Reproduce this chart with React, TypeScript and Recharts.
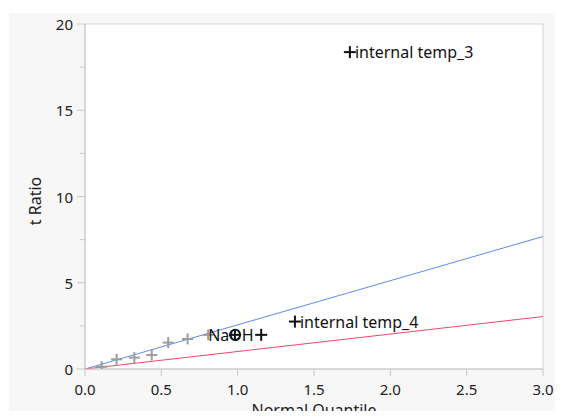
import React from 'react';
import {
  ComposedChart,
  Scatter,
  XAxis,
  YAxis,
  CartesianGrid,
  ReferenceLine,
  ReferenceArea,
} from 'recharts';

// Half-normal plot of effect t ratios
const quantiles = [0.109, 0.207, 0.323, 0.437, 0.545, 0.672, 0.807, 0.982, 1.154, 1.375, 1.735];
const tRatios = [0.13, 0.56, 0.66, 0.81, 1.53, 1.74, 1.98, 1.98, 1.98, 2.75, 18.37];
const termLabels = ['', '', '', '', '', '', '', 'NaOH', '', 'internal temp_4', 'internal temp_3'];
const activeTerms = [false, false, false, false, false, false, false, true, true, true, true];
const circledTerm = 'NaOH';

const xTicks = [0, 0.5, 1, 1.5, 2, 2.5, 3];
const yTicks = [0, 2.5, 5, 7.5, 10, 12.5, 15, 17.5, 20];
const xMax = 3;
const yMax = 20;

// reference lines through the origin, given by their height at the right edge
const blueLineEnd = 7.68;
const redLineEnd = 3.04;

const points = quantiles.map((q, i) => ({
  x: q,
  y: tRatios[i],
  label: termLabels[i],
  active: activeTerms[i],
}));

const FONT = '"Noto Sans", "Open Sans", sans-serif';
const AXIS_X = 77;
const AXIS_Y = 361;
const AXIS_COLOR = '#c8c8c8';

const PlusMark = (props: any) => {
  const { cx, cy, payload } = props;
  if (cx == null || cy == null) return null;
  const color = payload.active ? '#111' : '#9c9c9c';
  const arm = payload.active ? 6 : 5.5;
  const circled = payload.label === circledTerm;
  return (
    <g>
      <line x1={cx - arm} x2={cx + arm} y1={cy} y2={cy} stroke={color} strokeWidth={2} />
      <line x1={cx} x2={cx} y1={cy - arm} y2={cy + arm} stroke={color} strokeWidth={2} />
      {circled && <circle cx={cx} cy={cy} r={5} fill="none" stroke={color} strokeWidth={1.5} />}
      {payload.label && (
        <text
          x={circled ? cx - 4 : cx + 5}
          y={cy}
          textAnchor={circled ? 'middle' : 'start'}
          dominantBaseline="central"
          fontFamily={FONT}
          fontSize={16}
          fill="#111"
        >
          {payload.label}
        </text>
      )}
    </g>
  );
};

const YTick = (props: any) => {
  const { y, payload } = props;
  const v = payload.value;
  const major = v % 5 === 0;
  return (
    <g>
      <line x1={AXIS_X - (major ? 8 : 5)} x2={AXIS_X} y1={y} y2={y} stroke={AXIS_COLOR} strokeWidth={1} />
      {major && (
        <text
          x={AXIS_X - 12}
          y={y}
          textAnchor="end"
          dominantBaseline="central"
          fontFamily={FONT}
          fontSize={15}
          fill="#222"
        >
          {v}
        </text>
      )}
    </g>
  );
};

const XTick = (props: any) => {
  const { x, payload } = props;
  return (
    <g>
      <line x1={x} x2={x} y1={AXIS_Y} y2={AXIS_Y + 7} stroke={AXIS_COLOR} strokeWidth={1} />
      <text
        x={x}
        y={AXIS_Y + 20}
        textAnchor="middle"
        dominantBaseline="central"
        fontFamily={FONT}
        fontSize={15}
        fill="#222"
      >
        {payload.value.toFixed(1)}
      </text>
    </g>
  );
};

export default function App() {
  return (
    <div style={{ position: 'relative', width: 555, height: 403, overflow: 'hidden' }}>
      <div
        style={{
          position: 'absolute',
          left: 1,
          top: 5,
          right: 0,
          bottom: 0,
          background: '#f7f7f7',
        }}
      />
      <div style={{ position: 'absolute', left: 0, top: 0 }}>
        <ComposedChart
          width={555}
          height={411}
          margin={{ top: 16, right: 20, bottom: 0, left: 0 }}
        >
          <CartesianGrid fill="#ffffff" stroke="none" horizontal={false} vertical={false} />
          <XAxis
            type="number"
            dataKey="x"
            domain={[0, xMax]}
            ticks={xTicks}
            interval={0}
            height={50}
            tickSize={0}
            tickMargin={0}
            tick={<XTick />}
            axisLine={{ stroke: AXIS_COLOR }}
            allowDataOverflow
            label={{
              content: () => (
                <text
                  x={306}
                  y={408}
                  textAnchor="middle"
                  fontFamily={FONT}
                  fontSize={16}
                  fill="#222"
                >
                  Normal Quantile
                </text>
              ),
            }}
          />
          <YAxis
            type="number"
            dataKey="y"
            domain={[0, yMax]}
            ticks={yTicks}
            interval={0}
            width={77}
            tickSize={0}
            tickMargin={0}
            tick={<YTick />}
            axisLine={{ stroke: AXIS_COLOR }}
            allowDataOverflow
            label={{
              content: () => (
                <text
                  x={27}
                  y={193}
                  transform="rotate(-90 27 193)"
                  textAnchor="middle"
                  dominantBaseline="central"
                  fontFamily={FONT}
                  fontSize={16}
                  fill="#222"
                >
                  t Ratio
                </text>
              ),
            }}
          />
          <ReferenceArea
            x1={0}
            x2={xMax}
            y1={0}
            y2={yMax}
            fill="none"
            stroke="#d4d4d4"
            strokeWidth={1}
          />
          <ReferenceLine
            segment={[{ x: 0, y: 0 }, { x: xMax, y: blueLineEnd }]}
            stroke="#5b8cf2"
            strokeWidth={1}
          />
          <ReferenceLine
            segment={[{ x: 0, y: 0 }, { x: xMax, y: redLineEnd }]}
            stroke="#f0466a"
            strokeWidth={1}
          />
          <Scatter data={points} shape={<PlusMark />} isAnimationActive={false} />
        </ComposedChart>
      </div>
    </div>
  );
}
